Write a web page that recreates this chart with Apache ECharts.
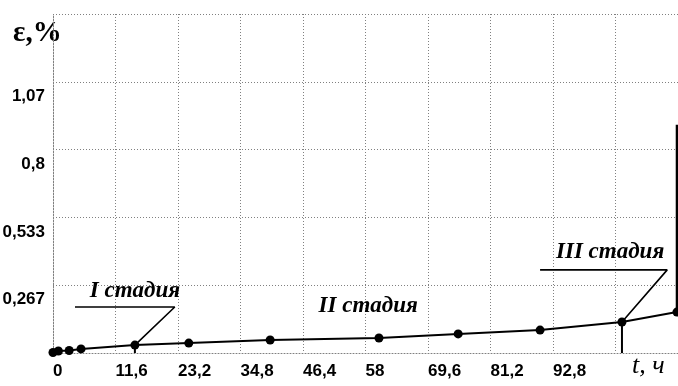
<!DOCTYPE html>
<html><head><meta charset="utf-8">
<script src="https://cdn.jsdelivr.net/npm/echarts@6/dist/echarts.min.js"></script>
<style>html,body{margin:0;padding:0;background:#fff}#c{width:678px;height:386px}</style>
</head><body><div id="c"></div>
<script>
// creep curve: time, h  /  strain, %
const timeH = [0, 1, 3, 5.2, 15.2, 25.2, 40.3, 60.5, 75.2, 90.4, 105.6, 115.8];
const strainPct = [0.002, 0.008, 0.01, 0.016, 0.031, 0.039, 0.051, 0.059, 0.075, 0.09, 0.122, 0.161];
const failureTime = 115.8;
const failureStrainTop = 0.898;
const xTickLabels = ['0','11,6','23,2','34,8','46,4','58','69,6','81,2','92,8','',''];
const yTickLabels = ['','0,267','0,533','0,8','1,07',''];
const stageNames = ['I стадия','II стадия','III стадия'];
const stageLabelAt = [[15.2,0.244],[58.5,0.185],[103.4,0.398]];
const stageBoundary = [[15.2,0.031],[105.6,0.122]];
const leaderI = [[4.08,0.181],[22.6,0.181],[15.2,0.031]];
const leaderIII = [[90.4,0.327],[114.0,0.327],[105.6,0.122]];

const X_INT = 11.6, X_MAX = 116;
const Y_INT = 0.8/3, Y_MAX = 4/3;

const curve = timeH.map((t,i)=>[t,strainPct[i]]);
const rise = [[failureTime, strainPct[strainPct.length-1]],[failureTime, failureStrainTop]];

const numFont = '"Liberation Sans",Arial,sans-serif';
const serif = '"Liberation Serif","DejaVu Serif",serif';
const dotted = {color:'#808080', width:1, type:[1,2]};

const chart = echarts.init(document.getElementById('c'));
chart.setOption({
  animation:false,
  backgroundColor:'#fff',
  grid:{left:53, right:0, top:14, bottom:33, containLabel:false, outerBoundsMode:'none'},
  xAxis:{type:'value', min:0, max:X_MAX, interval:X_INT,
    axisLine:{show:true, onZero:false, lineStyle:dotted},
    axisTick:{show:false},
    splitLine:{show:true, lineStyle:dotted},
    axisLabel:{align:'left', margin:10, fontFamily:numFont, fontSize:17, fontWeight:'bold', color:'#000',
      formatter:v=>xTickLabels[Math.round(v/X_INT)]||''}},
  yAxis:{type:'value', min:0, max:Y_MAX, interval:Y_INT,
    axisLine:{show:true, lineStyle:dotted},
    axisTick:{show:false},
    splitLine:{show:true, lineStyle:dotted},
    axisLabel:{margin:8, verticalAlign:'top', padding:[6,0,0,0], fontFamily:numFont, fontSize:17, fontWeight:'bold', color:'#000',
      formatter:v=>yTickLabels[Math.round(v/Y_INT)]||''}},
  graphic:[
    {type:'text', left:13, top:19, style:{text:'ε,%', font:'bold 29px '+serif, fill:'#000'}},
    {type:'text', left:632, top:353, style:{text:'t, ч', font:'italic 26px '+serif, fill:'#000'}}
  ],
  series:[
    {type:'line', data:leaderI, symbol:'none', lineStyle:{color:'#000', width:1.6}, z:2, silent:true},
    {type:'line', data:leaderIII, symbol:'none', lineStyle:{color:'#000', width:1.6}, z:2, silent:true},
    {type:'line', data:[stageBoundary[0],[stageBoundary[0][0],0]], symbol:'none', lineStyle:{color:'#000', width:2}, z:2, silent:true},
    {type:'line', data:[stageBoundary[1],[stageBoundary[1][0],0]], symbol:'none', lineStyle:{color:'#000', width:2}, z:2, silent:true},
    {type:'line', data:rise, symbol:'none', lineStyle:{color:'#000', width:2.4}, z:3, silent:true},
    {type:'line', data:curve, symbol:'circle', symbolSize:9, itemStyle:{color:'#000'},
      lineStyle:{color:'#000', width:2}, z:4,
      markPoint:{symbol:'circle', symbolSize:1, itemStyle:{color:'rgba(0,0,0,0)'},
        label:{show:true, position:'inside', color:'#000', fontFamily:serif, fontStyle:'italic', fontWeight:'bold', fontSize:23,
          formatter:p=>p.name},
        data:stageNames.map((n,i)=>({name:n, coord:stageLabelAt[i]}))}}
  ]
});
</script></body></html>
